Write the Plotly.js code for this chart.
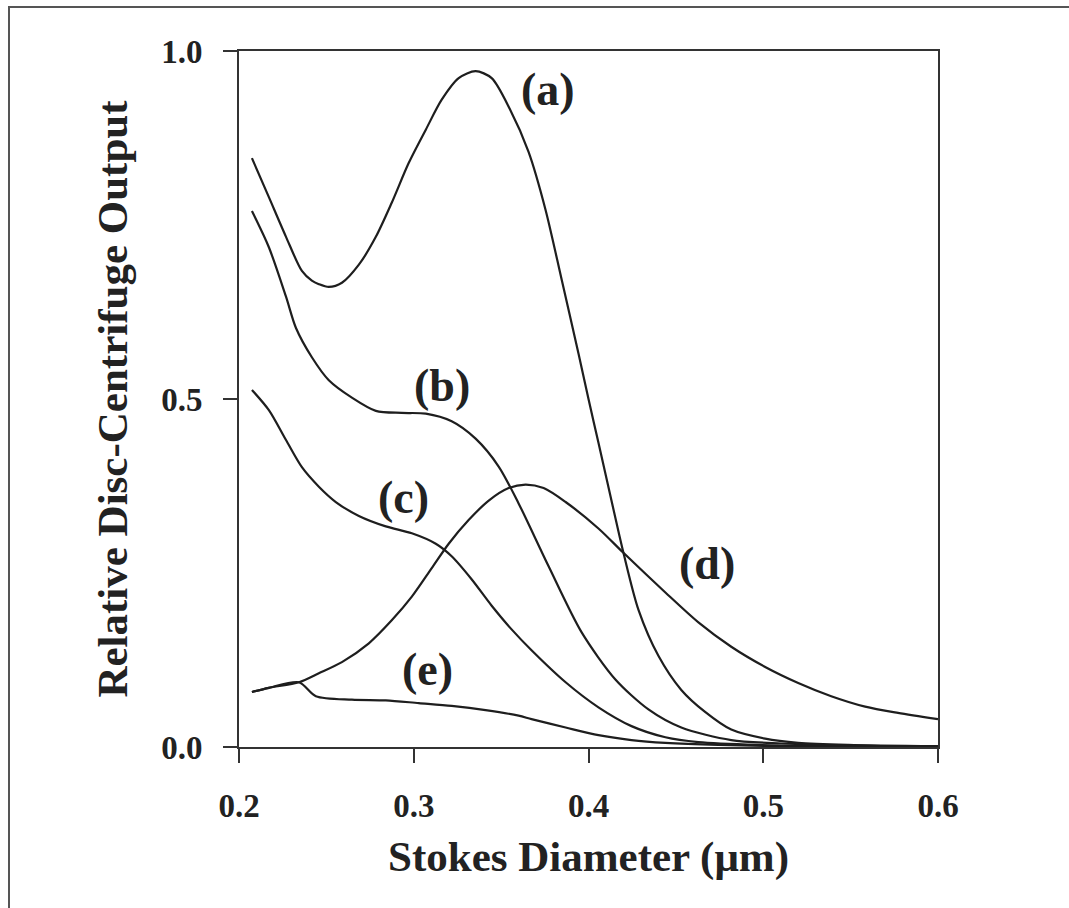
<!DOCTYPE html>
<html>
<head>
<meta charset="utf-8">
<script src="https://cdn.plot.ly/plotly-3.0.1.min.js"></script>
<style>
html,body{margin:0;padding:0;background:#fff;}
#chart{width:1069px;height:908px;}
</style>
</head>
<body>
<div id="chart"></div>
<script>
// Curve (a)
const aX = [0.2074,0.2171,0.2269,0.2360,0.2417,0.2457,0.2514,0.2589,0.2686,0.2783,0.2874,0.2971,0.3069,0.3160,0.3257,0.3354,0.3446,0.3549,0.3657,0.3754,0.3846,0.3943,0.4000,0.4057,0.4154,0.4200,0.4286,0.4400,0.4531,0.4669,0.4817,0.5011,0.5200,0.5486,0.6000];
const aY = [0.846,0.790,0.733,0.684,0.670,0.665,0.661,0.667,0.693,0.733,0.782,0.839,0.887,0.930,0.961,0.971,0.961,0.917,0.855,0.772,0.672,0.565,0.500,0.437,0.329,0.279,0.197,0.131,0.082,0.050,0.025,0.012,0.006,0.003,0.001];
// Curve (b)
const bX = [0.2074,0.2171,0.2269,0.2326,0.2417,0.2514,0.2646,0.2783,0.2931,0.3069,0.3217,0.3354,0.3486,0.3600,0.3771,0.3960,0.4154,0.4343,0.4531,0.4817,0.5103,0.5486,0.6000];
const bY = [0.770,0.718,0.647,0.602,0.560,0.527,0.502,0.483,0.480,0.479,0.468,0.443,0.403,0.350,0.260,0.165,0.097,0.054,0.028,0.010,0.005,0.002,0.001];
// Curve (c)
const cX = [0.2074,0.2171,0.2269,0.2360,0.2457,0.2554,0.2686,0.2840,0.2989,0.3126,0.3217,0.3331,0.3446,0.3560,0.3674,0.3869,0.4057,0.4246,0.4440,0.4629,0.4971,0.5486,0.6000];
const cY = [0.513,0.484,0.441,0.402,0.374,0.352,0.332,0.317,0.307,0.292,0.274,0.241,0.203,0.169,0.139,0.093,0.057,0.030,0.014,0.007,0.003,0.001,0.001];
// Curve (d)
const dX = [0.2074,0.2171,0.2343,0.2457,0.2589,0.2743,0.2874,0.2989,0.3103,0.3200,0.3314,0.3429,0.3543,0.3640,0.3743,0.3869,0.4057,0.4200,0.4440,0.4629,0.4817,0.5011,0.5200,0.5389,0.5583,0.5771,0.6000];
const dY = [0.079,0.085,0.093,0.106,0.122,0.149,0.182,0.216,0.257,0.292,0.326,0.354,0.372,0.377,0.372,0.352,0.314,0.279,0.222,0.179,0.144,0.115,0.092,0.073,0.058,0.049,0.040];
// Curve (e)
const eX = [0.2074,0.2171,0.2343,0.2440,0.2646,0.2840,0.3029,0.3217,0.3411,0.3600,0.3674,0.3869,0.4057,0.4246,0.4440,0.4743,0.5200,0.6000];
const eY = [0.079,0.085,0.093,0.073,0.068,0.067,0.063,0.059,0.053,0.045,0.040,0.028,0.017,0.010,0.006,0.003,0.001,0.001];

// Curve labels
const labelText = ['(a)','(b)','(c)','(d)','(e)'];
const labelX = [0.377,0.316,0.294,0.468,0.308];
const labelY = [0.945,0.519,0.359,0.264,0.111];

// Axis ticks
const xTicks = [0.2,0.3,0.4,0.5,0.6];
const xTickText = ['0.2','0.3','0.4','0.5','0.6'];
const yTicks = [0.0,0.5,1.0];
const yTickText = ['0.0','0.5','1.0'];

const lineStyle = {color:'#1e1e1e', width:2.2, shape:'spline', smoothing:0.8};
const series = [[aX,aY],[bX,bY],[cX,cY],[dX,dY],[eX,eY]];
const traces = series.map((s,i)=>({
  x:s[0], y:s[1], type:'scatter', mode:'lines', line:lineStyle, name:labelText[i], hoverinfo:'skip'
}));

const fontFam = '"Liberation Serif", "Times New Roman", serif';
const annotations = labelText.map((t,i)=>({
  x:labelX[i], y:labelY[i], xref:'x', yref:'y', text:t, showarrow:false,
  font:{family:fontFam, size:46, color:'#222', weight:'bold'}, xanchor:'center', yanchor:'middle'
}));

// Outer frame (paper coords relative to plot area: l=239, t=51, w=699, h=696)
const W = 699, H = 696, L = 239, B = 747;
const px = v => (v - L)/W;
const py = v => (B - v)/H;
const shapes = [
  {type:'line', xref:'paper', yref:'paper', x0:px(8), x1:px(1069), y0:py(7), y1:py(7), line:{color:'#555', width:2}},
  {type:'line', xref:'paper', yref:'paper', x0:px(9), x1:px(9), y0:py(7), y1:py(908), line:{color:'#555', width:2}}
];

const axisCommon = {
  showgrid:false, zeroline:false, showline:true, mirror:true,
  linecolor:'#333', linewidth:2, ticks:'outside', ticklen:14, tickwidth:2, tickcolor:'#333',
  tickfont:{family:fontFam, size:33, color:'#222', weight:'bold'}, fixedrange:true
};

const layout = {
  width:1069, height:908,
  margin:{l:239, r:131, t:51, b:161},
  paper_bgcolor:'#fff', plot_bgcolor:'#fff',
  showlegend:false,
  xaxis: Object.assign({}, axisCommon, {
    range:[0.2,0.6], tickvals:xTicks, ticktext:xTickText, ticklabelstandoff:14,
    title:{text:'Stokes Diameter (μm)', font:{family:fontFam, size:43, color:'#222', weight:'bold'}, standoff:18}
  }),
  yaxis: Object.assign({}, axisCommon, {
    range:[0,1], tickvals:yTicks, ticktext:yTickText, ticklabelstandoff:14,
    title:{text:'Relative Disc-Centrifuge Output', font:{family:fontFam, size:43, color:'#222', weight:'bold'}, standoff:20}
  }),
  annotations: annotations,
  shapes: shapes
};

Plotly.newPlot('chart', traces, layout, {displayModeBar:false, staticPlot:true});
</script>
</body>
</html>
